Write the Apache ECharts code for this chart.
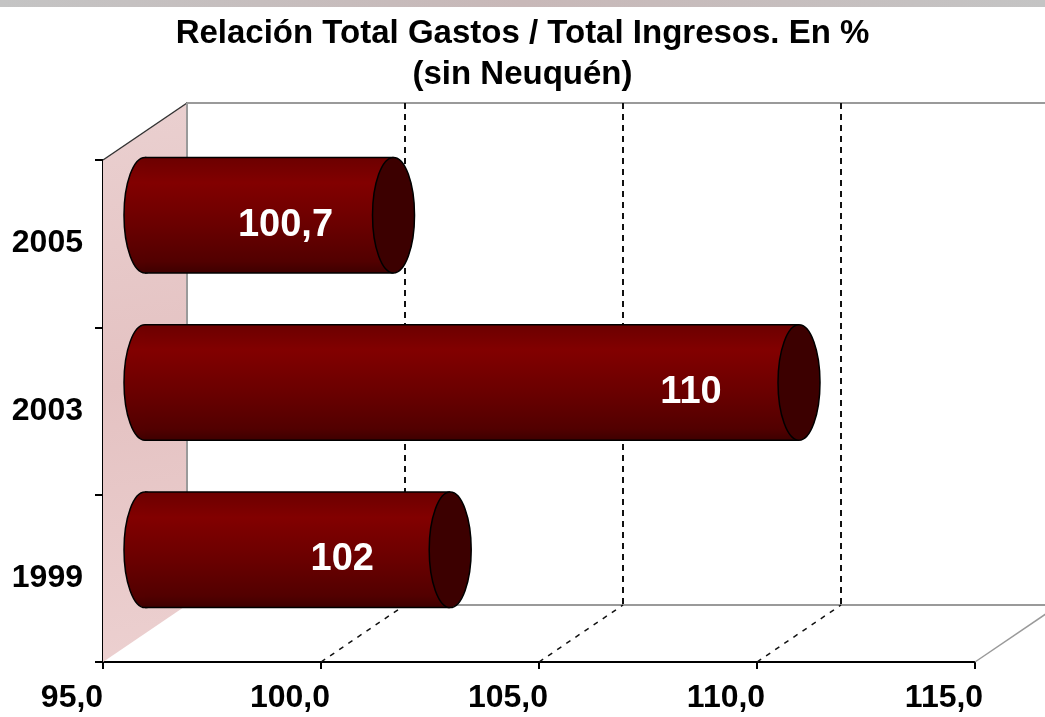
<!DOCTYPE html>
<html>
<head>
<meta charset="utf-8">
<script src="https://cdn.jsdelivr.net/npm/echarts@6/dist/echarts.min.js"></script>
<style>
  html, body { margin: 0; padding: 0; background: #fff; }
  #main { width: 1045px; height: 717px; }
</style>
</head>
<body>
<div id="main"></div>
<script>
// data
const years = ['1999', '2003', '2005'];
const ratios = [102, 110, 100.7];
const xTicks = [95, 100, 105, 110, 115];

// 3d depth offset of the back wall (px)
const DX = 84, DY = -57;
const FONT = '"Liberation Sans", Arial, sans-serif';

const chart = echarts.init(document.getElementById('main'));

function fmt(v) {
  return String(v).replace('.', ',');
}

// back wall, side wall, floor, gridlines
function renderWalls(params, api) {
  const cs = params.coordSys;
  const x0 = cs.x, y0 = cs.y, x1 = cs.x + cs.width, y1 = cs.y + cs.height;
  const kids = [];
  // back wall
  kids.push({
    type: 'rect',
    shape: { x: x0 + DX, y: y0 + DY, width: cs.width + 200, height: cs.height },
    style: { fill: '#fff', stroke: '#9a9a9a', lineWidth: 2 }
  });
  // side wall
  kids.push({
    type: 'polygon',
    shape: { points: [[x0, y0], [x0 + DX, y0 + DY], [x0 + DX, y1 + DY], [x0, y1]] },
    style: {
      fill: new echarts.graphic.LinearGradient(0, 0, 1, 1, [
        { offset: 0, color: '#ead0d0' },
        { offset: 0.5, color: '#e4c2c2' },
        { offset: 1, color: '#ecd0d0' }
      ]),
      stroke: null
    }
  });
  kids.push({
    type: 'line',
    shape: { x1: x0, y1: y0, x2: x0 + DX, y2: y0 + DY },
    style: { stroke: '#333', lineWidth: 1.5 }
  });
  kids.push({
    type: 'line',
    shape: { x1: x0 + DX, y1: y0 + DY, x2: x0 + DX, y2: y1 + DY },
    style: { stroke: '#9a9a9a', lineWidth: 2 }
  });
  // floor right edge
  kids.push({
    type: 'line',
    shape: { x1: x1, y1: y1, x2: x1 + DX, y2: y1 + DY },
    style: { stroke: '#9a9a9a', lineWidth: 1.5 }
  });
  // dashed gridlines on floor and back wall
  xTicks.slice(1, -1).forEach(function (t) {
    const px = api.coord([t, 0])[0];
    kids.push({
      type: 'line',
      shape: { x1: px, y1: y1, x2: px + DX, y2: y1 + DY },
      style: { stroke: '#111', lineWidth: 1.5, lineDash: [5, 6] }
    });
    kids.push({
      type: 'line',
      shape: { x1: px + DX, y1: y0 + DY, x2: px + DX, y2: y1 + DY },
      style: { stroke: '#111', lineWidth: 2, lineDash: [6, 5] }
    });
  });
  return { type: 'group', children: kids, silent: true };
}

// horizontal cylinders, sitting halfway in depth
function renderCylinder(params, api) {
  const val = api.value(0);
  const idx = api.value(1);
  const p0 = api.coord([xTicks[0], idx]);
  const p1 = api.coord([val, idx]);
  const band = api.size([0, 1])[1];
  const h = band * 0.69;
  const rx = 21;
  const cy = p0[1] + DY / 2;
  const xa = p0[0] + DX / 2;
  const xb = p1[0] + DX / 2;
  const bodyFill = new echarts.graphic.LinearGradient(0, 0, 0, 1, [
    { offset: 0, color: '#6c0000' },
    { offset: 0.22, color: '#820000' },
    { offset: 0.6, color: '#690000' },
    { offset: 0.9, color: '#520000' },
    { offset: 1, color: '#3e0000' }
  ]);
  return {
    type: 'group',
    children: [
      {
        type: 'ellipse',
        shape: { cx: xa, cy: cy, rx: rx, ry: h / 2 },
        style: { fill: bodyFill, stroke: '#000', lineWidth: 1.5 }
      },
      {
        type: 'rect',
        shape: { x: xa, y: cy - h / 2, width: xb - xa, height: h },
        style: { fill: bodyFill, stroke: null }
      },
      {
        type: 'line',
        shape: { x1: xa, y1: cy - h / 2, x2: xb, y2: cy - h / 2 },
        style: { stroke: '#000', lineWidth: 1.5 }
      },
      {
        type: 'line',
        shape: { x1: xa, y1: cy + h / 2, x2: xb, y2: cy + h / 2 },
        style: { stroke: '#000', lineWidth: 1.5 }
      },
      {
        type: 'ellipse',
        shape: { cx: xb, cy: cy, rx: rx, ry: h / 2 },
        style: { fill: '#3c0000', stroke: '#000', lineWidth: 1.5 }
      },
      {
        type: 'text',
        style: {
          text: fmt(val),
          x: xb - 108,
          y: cy + 10,
          align: 'center',
          verticalAlign: 'middle',
          fill: '#fff',
          font: 'bold 38px ' + FONT
        }
      }
    ]
  };
}

const option = {
  backgroundColor: '#fff',
  animation: false,
  title: {
    text: 'Relación Total Gastos / Total Ingresos. En %\n(sin Neuquén)',
    left: 'center',
    top: 8,
    textStyle: {
      fontFamily: FONT,
      fontWeight: 'bold',
      fontSize: 33,
      lineHeight: 41,
      color: '#000'
    }
  },
  graphic: [{
    type: 'rect',
    left: 0, top: 0,
    shape: { width: 1045, height: 7 },
    style: {
      fill: new echarts.graphic.LinearGradient(0, 0, 1, 0, [
        { offset: 0, color: '#c4c4c4' },
        { offset: 0.5, color: '#c8b8b8' },
        { offset: 1, color: '#c4c4c4' }
      ])
    },
    silent: true
  }],
  grid: { left: 103, right: 70, top: 160, bottom: 55 },
  xAxis: {
    type: 'value',
    min: xTicks[0],
    max: xTicks[xTicks.length - 1],
    interval: 5,
    axisLine: { show: true, lineStyle: { color: '#000', width: 2 } },
    axisTick: { show: true, length: 7, lineStyle: { color: '#000', width: 2 } },
    splitLine: { show: false },
    axisLabel: {
      formatter: function (v) { return v.toFixed(1).replace('.', ','); },
      fontFamily: FONT,
      fontWeight: 'bold',
      fontSize: 32,
      color: '#000',
      margin: 20,
      padding: [0, 62, 0, 0]
    }
  },
  yAxis: {
    type: 'category',
    data: years,
    axisLine: { show: true, lineStyle: { color: '#000', width: 2 } },
    axisTick: { show: true, length: 8, lineStyle: { color: '#000', width: 2 } },
    axisLabel: {
      fontFamily: FONT,
      fontWeight: 'bold',
      fontSize: 32,
      color: '#000',
      margin: 20
    }
  },
  series: [
    {
      type: 'custom',
      z: 1,
      silent: true,
      renderItem: renderWalls,
      data: [[xTicks[0], 0]],
      encode: { x: 0, y: 1 }
    },
    {
      type: 'custom',
      z: 5,
      renderItem: renderCylinder,
      data: ratios.map(function (v, i) { return [v, i]; }),
      encode: { x: 0, y: 1 }
    }
  ]
};

chart.setOption(option);
</script>
</body>
</html>
